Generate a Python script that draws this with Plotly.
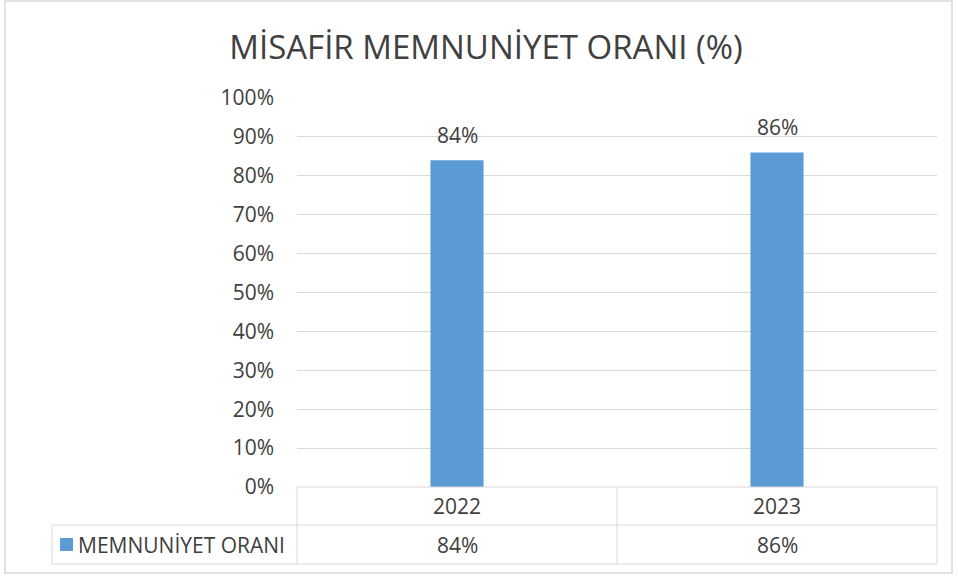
import plotly.graph_objects as go

title = "MİSAFİR MEMNUNİYET ORANI (%)"
series_name = "MEMNUNİYET ORANI"
categories = ["2022", "2023"]
values = [84, 86]
tick_vals = [0, 10, 20, 30, 40, 50, 60, 70, 80, 90, 100]
tick_text = [f"{v}%" for v in tick_vals]

W, H = 958, 577
L, R, T, B = 297, 937, 98, 487  # pixel coords of plot area
pw, ph = R - L, B - T

def px_x(p):
    return (p - L) / pw

def px_y(p):
    return (B - p) / ph

BAR = "#5B9BD5"
TXT = "#404040"
GRID = "#D9D9D9"
FONT = "Open Sans"
FS = 21

fig = go.Figure()
fig.add_trace(go.Bar(
    x=categories, y=values, name=series_name,
    marker=dict(color=BAR, line=dict(width=0)),
    showlegend=False, hoverinfo="x+y",
))

shapes = []
def line(x0, y0, x1, y1, color=GRID, w=1):
    shapes.append(dict(type="line", xref="paper", yref="paper",
                       x0=px_x(x0), y0=px_y(y0), x1=px_x(x1), y1=px_y(y1),
                       line=dict(color=color, width=w), layer="above"))

# outer chart border
shapes.append(dict(type="rect", xref="paper", yref="paper",
                   x0=px_x(5), y0=px_y(573), x1=px_x(952), y1=px_y(1),
                   line=dict(color="#D9D9D9", width=1.5), layer="below"))
# data table lines
line(297, 487, 937, 487)
line(52, 525, 937, 525)
line(52, 564, 937, 564)
line(297, 487, 297, 564)
line(617, 487, 617, 564)
line(937, 487, 937, 564)
line(52, 525, 52, 564)
# legend key
shapes.append(dict(type="rect", xref="paper", yref="paper",
                   x0=px_x(60), x1=px_x(73), y0=px_y(551), y1=px_y(538),
                   fillcolor=BAR, line=dict(width=0)))

annotations = []
for i, (c, v) in enumerate(zip(categories, values)):
    # data label above bar
    annotations.append(dict(x=i, xref="x", y=v, yref="y", text=f"{v}%",
                            showarrow=False, yanchor="bottom", xanchor="center",
                            yshift=9, font=dict(size=FS, color=TXT, family=FONT)))
    # data table: category row
    annotations.append(dict(x=i, xref="x", y=px_y(506), yref="paper",
                            text=c, showarrow=False, yanchor="middle", xanchor="center",
                            font=dict(size=FS, color=TXT, family=FONT)))
    # data table: value row
    annotations.append(dict(x=i, xref="x", y=px_y(545), yref="paper",
                            text=f"{v}%", showarrow=False, yanchor="middle", xanchor="center",
                            font=dict(size=FS, color=TXT, family=FONT)))
annotations.append(dict(x=px_x(76), xref="paper", y=px_y(545), yref="paper",
                        text=series_name, showarrow=False, xanchor="left", yanchor="middle",
                        font=dict(size=21, color=TXT, family=FONT)))

fig.update_layout(
    width=W, height=H,
    margin=dict(l=L, r=W - R, t=T, b=H - B, pad=0),
    paper_bgcolor="white", plot_bgcolor="white",
    title=dict(text=title, x=486 / W, xanchor="center",
               y=1 - 47 / H, yanchor="middle",
               font=dict(size=33, color=TXT, family=FONT)),
    bargap=0.834,
    shapes=shapes, annotations=annotations,
    xaxis=dict(type="category", categoryorder="array", categoryarray=categories,
               range=[-0.5, len(categories) - 0.5], autorange=False,
               showticklabels=False, showgrid=False,
               zeroline=False, showline=False, ticks=""),
    yaxis=dict(range=[0, 100], tickvals=tick_vals, ticktext=tick_text,
               showgrid=True, gridcolor=GRID, gridwidth=1, zeroline=False,
               showline=False, ticks="", ticklabelstandoff=22,
               tickfont=dict(size=FS, color=TXT, family=FONT)),
    font=dict(family=FONT, color=TXT),
)

fig.write_html(
    "out.html",
    config={"displayModeBar": False},
    post_script="document.body.style.margin='0';document.body.style.overflow='hidden';",
)
